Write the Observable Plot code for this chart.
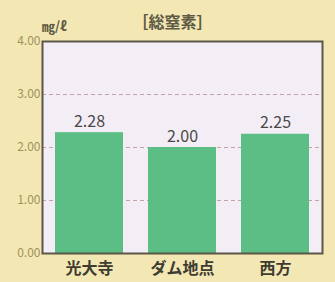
<!DOCTYPE html>
<html><head><meta charset="utf-8">
<script src="https://cdn.jsdelivr.net/npm/d3@7"></script>
<script src="https://cdn.jsdelivr.net/npm/@observablehq/plot@0.6"></script>
<style>
body{margin:0;background:#f3e8b4;}
#wrap{position:relative;width:335px;height:282px;background:#f3e8b4;overflow:hidden;}
#title{position:absolute;left:0;width:345px;top:9px;text-align:center;font:bold 16px "Noto Sans CJK JP";color:#5e5a44;}
#unit{position:absolute;left:42px;top:16px;font:bold 13px "Noto Sans CJK JP";color:#5e5a44;}
</style></head>
<body><div id="wrap"><div id="title">［総窒素］</div><div id="unit">㎎/ℓ</div></div>
<script>
const categories = ["光大寺", "ダム地点", "西方"];
const values = [2.28, 2.00, 2.25];
const valueLabels = ["2.28", "2.00", "2.25"];
const yTicks = [0, 1, 2, 3, 4];
const yTickLabels = ["0.00", "1.00", "2.00", "3.00", "4.00"];
const gridTicks = [1, 2, 3];

const data = categories.map((c, i) => ({cat: c, v: values[i], label: valueLabels[i]}));

const chart = Plot.plot({
  width: 335, height: 282,
  marginTop: 41, marginLeft: 42, marginRight: 13, marginBottom: 29,
  style: {background: "transparent", fontFamily: "Noto Sans CJK JP"},
  x: {domain: categories, paddingInner: 0.27, paddingOuter: 0.135, label: null},
  y: {domain: [0, 4], label: null},
  marks: [
    Plot.frame({fill: "#f3eef6", stroke: "none"}),
    Plot.ruleY(gridTicks, {stroke: "#c8a0a8", strokeDasharray: "4,3", strokeWidth: 1}),
    Plot.barY(data, {x: "cat", y: "v", fill: "#5cbe84"}),
    Plot.text(data, {x: "cat", y: "v", text: "label", dy: -11, fontSize: 16, fill: "#4a4848"}),
    Plot.frame({stroke: "#5b5648", strokeWidth: 2}),
    Plot.axisY({ticks: yTicks, tickFormat: (d, i) => yTickLabels[i], tickSize: 0, tickPadding: 2, fontSize: 12, fill: "#a0915e"}),
    Plot.axisX({tickSize: 0, tickPadding: 9, fontSize: 16, fontWeight: "bold", fill: "#3e3c30"})
  ]
});
document.getElementById("wrap").appendChild(chart);
</script></body></html>
